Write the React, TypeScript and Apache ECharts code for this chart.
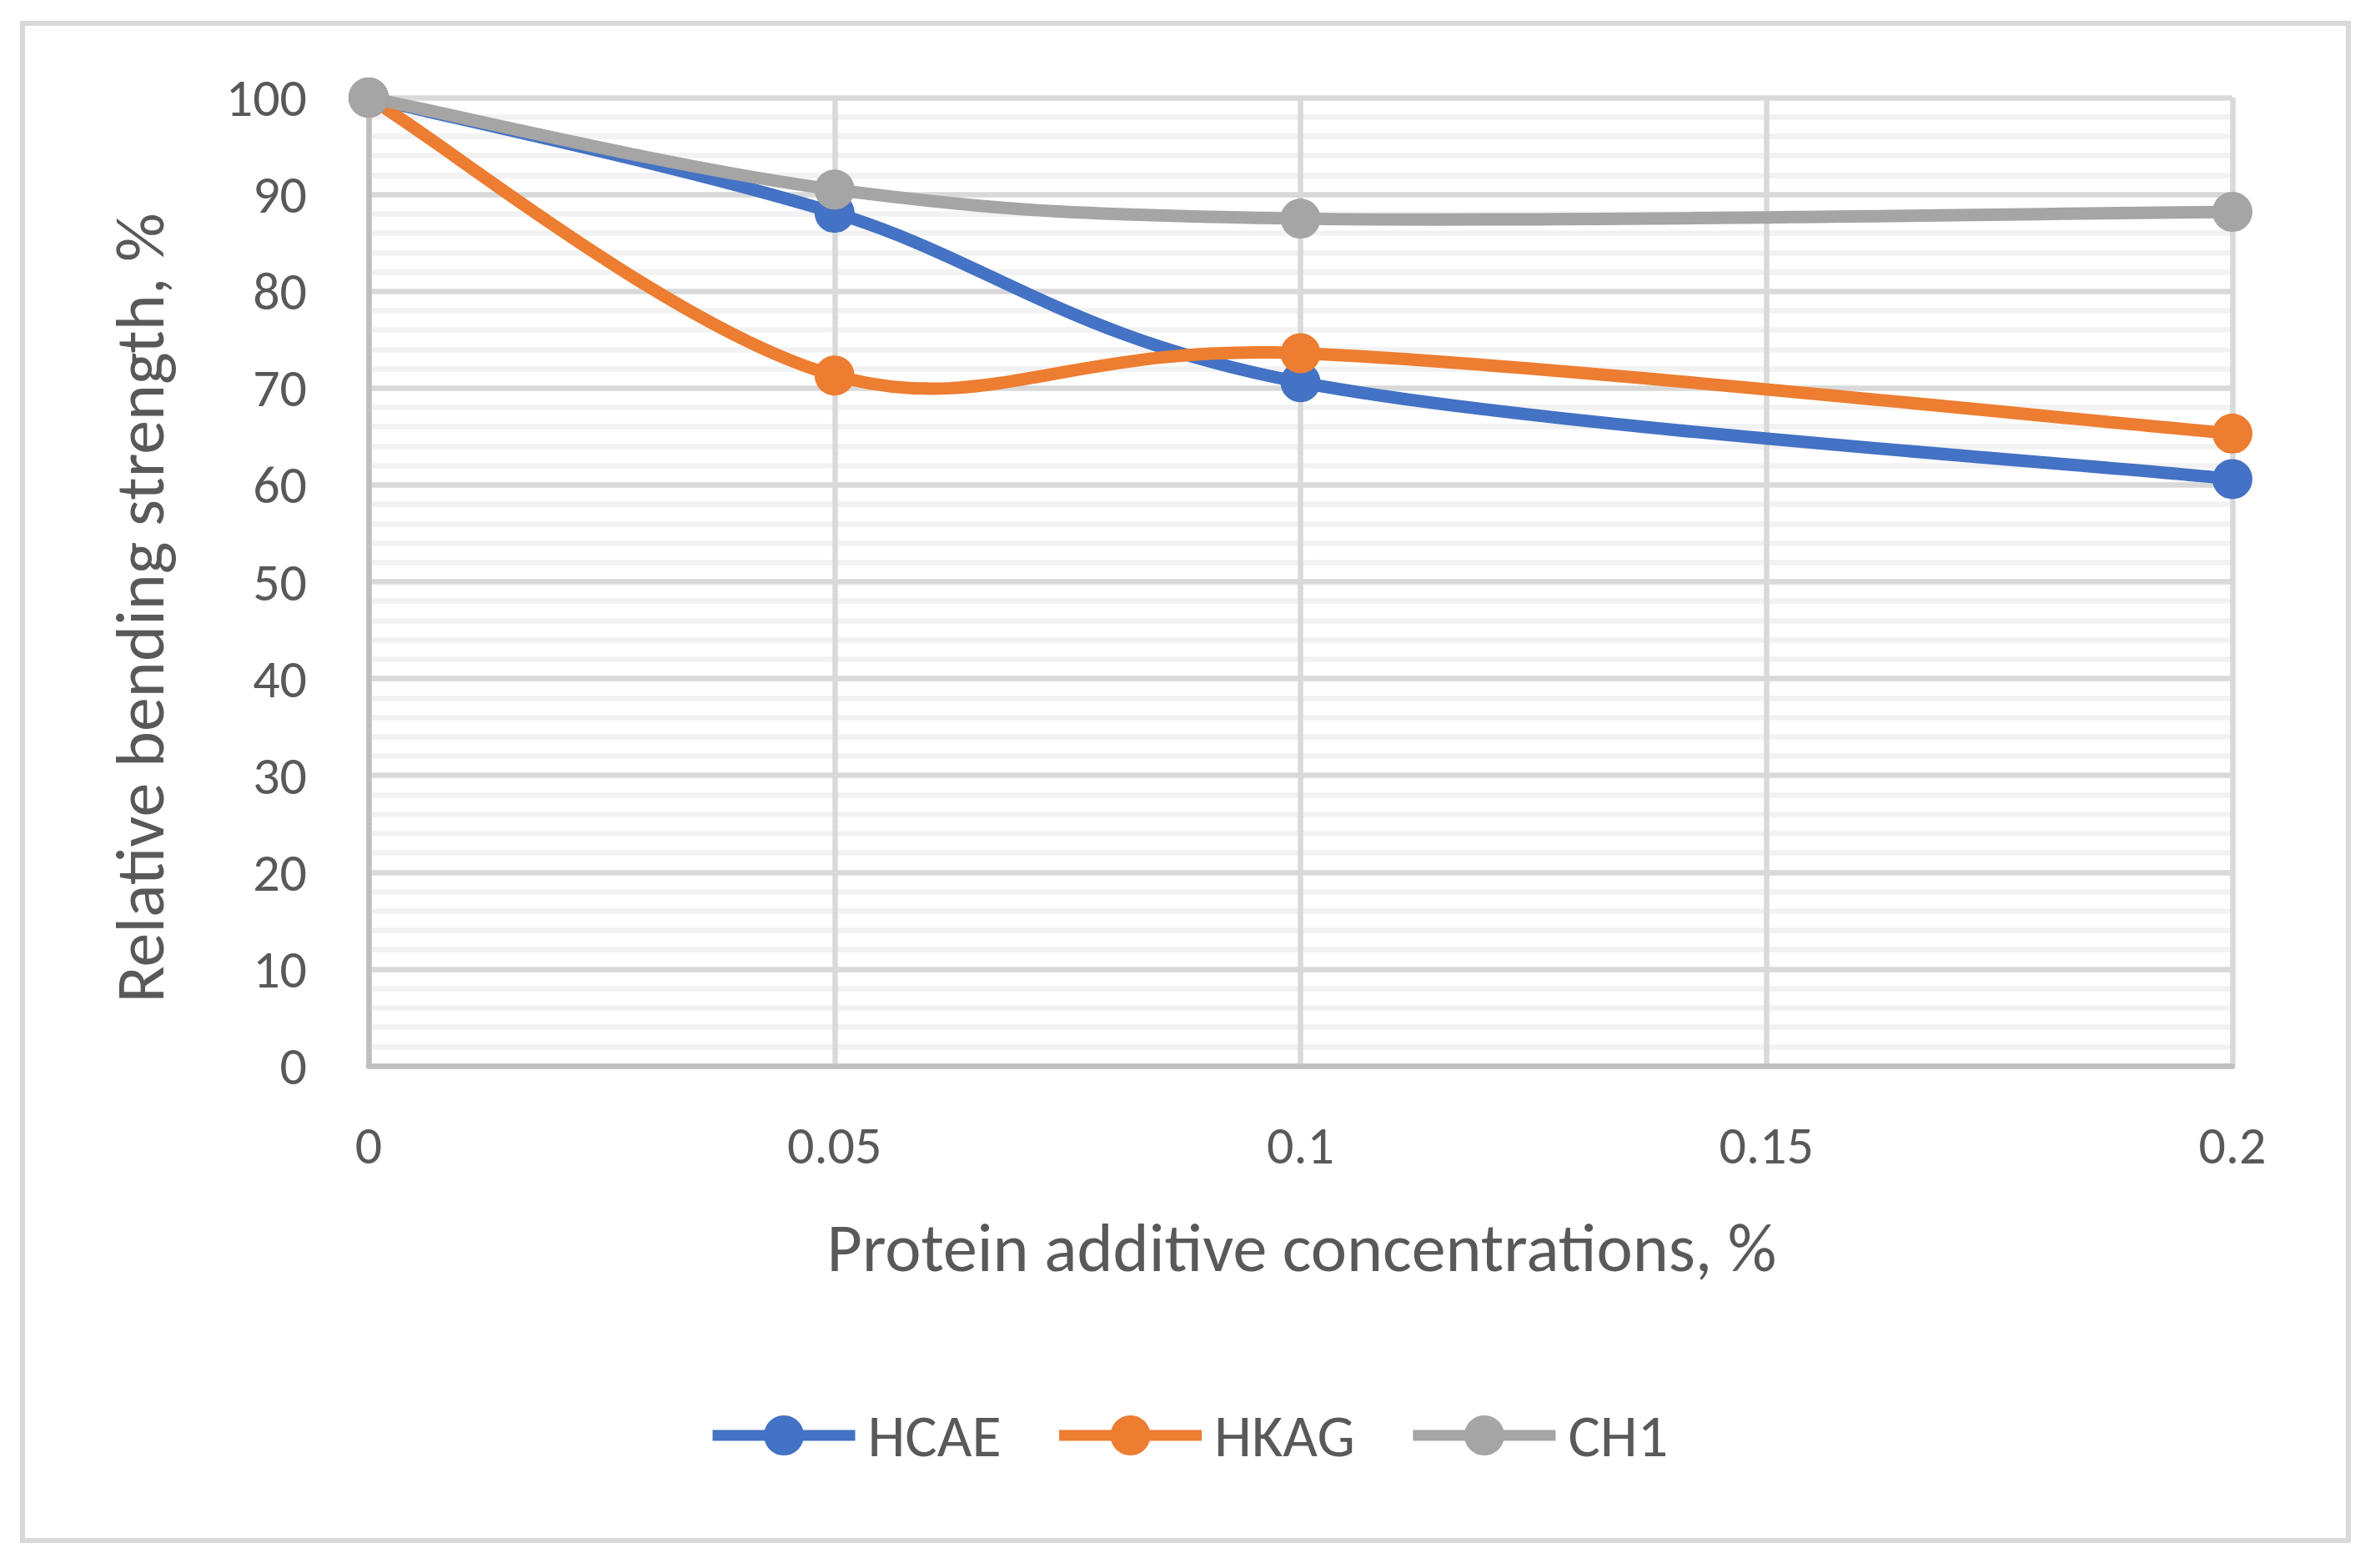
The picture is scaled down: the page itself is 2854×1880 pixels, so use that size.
import React, { useEffect, useRef } from "react";
import * as echarts from "echarts";

const xValues = [0, 0.05, 0.1, 0.2];
const hcae = [100, 88.1, 70.6, 60.6];
const hkag = [100, 71.3, 73.6, 65.3];
const ch1 = [100, 90.5, 87.5, 88.2];
const seriesNames = ["HCAE", "HKAG", "CH1"];
const seriesColors = ["#4472C4", "#ED7D31", "#A5A5A5"];
const xTitle = "Protein additive concentrations, %";
const yTitle = "Relative bending strength, %";

const FONT = "Carlito, Calibri, Lato, sans-serif";
const TEXT = "#595959";

// Excel-like (Catmull-Rom) smoothed path through points given in pixels
function smoothPath(pts: number[][]): string {
  let d = `M${pts[0][0]},${pts[0][1]}`;
  for (let i = 0; i < pts.length - 1; i++) {
    const p0 = pts[i - 1] || pts[i];
    const p1 = pts[i];
    const p2 = pts[i + 1];
    const p3 = pts[i + 2] || pts[i + 1];
    const c1x = p1[0] + (p2[0] - p0[0]) / 6;
    const c1y = p1[1] + (p2[1] - p0[1]) / 6;
    const c2x = p2[0] - (p3[0] - p1[0]) / 6;
    const c2y = p2[1] - (p3[1] - p1[1]) / 6;
    d += ` C${c1x},${c1y} ${c2x},${c2y} ${p2[0]},${p2[1]}`;
  }
  return d;
}

export default function App() {
  const ref = useRef<HTMLDivElement>(null);
  useEffect(() => {
    document.body.style.margin = "0";
    if (!ref.current) return;
    const chart = echarts.init(ref.current, undefined, { renderer: "svg" });
    const allValues = [hcae, hkag, ch1];
    const series: any[] = [];
    seriesNames.forEach((name, i) => {
      series.push({
        name: name + " curve",
        type: "custom",
        coordinateSystem: "cartesian2d",
        silent: true,
        data: [[xValues[0], allValues[i][0]]],
        renderItem: (params: any, api: any) => {
          const pts = xValues.map((x, j) => api.coord([x, allValues[i][j]]));
          return {
            type: "path",
            shape: { pathData: smoothPath(pts) },
            style: {
              fill: "none",
              stroke: seriesColors[i],
              lineWidth: 15,
              lineJoin: "round",
              lineCap: "round",
            },
          };
        },
      });
      series.push({
        name,
        type: "line",
        symbol: "circle",
        symbolSize: 48,
        showSymbol: true,
        color: seriesColors[i],
        lineStyle: { color: seriesColors[i], width: 15, opacity: 0 },
        itemStyle: { color: seriesColors[i] },
        data: xValues.map((x, j) => [x, allValues[i][j]]),
      });
    });
    chart.setOption({
      animation: false,
      backgroundColor: "#ffffff",
      textStyle: { fontFamily: FONT },
      grid: { left: 442, right: 177, top: 117, bottom: 602, containLabel: false },
      xAxis: {
        type: "value",
        min: 0,
        max: 0.2,
        interval: 0.05,
        axisLine: { show: true, lineStyle: { color: "#BFBFBF", width: 6.5 } },
        axisTick: { show: false },
        axisLabel: { color: TEXT, fontSize: 64, fontFamily: FONT, margin: 63 },
        splitLine: { show: true, lineStyle: { color: "#D9D9D9", width: 6.5 } },
      },
      yAxis: {
        type: "value",
        min: 0,
        max: 100,
        interval: 10,
        axisLine: { show: true, lineStyle: { color: "#BFBFBF", width: 6.5 } },
        axisTick: { show: false },
        axisLabel: { color: TEXT, fontSize: 64, fontFamily: FONT, margin: 74 },
        splitLine: { show: true, lineStyle: { color: "#D9D9D9", width: 6.5 } },
        minorTick: { show: false, splitNumber: 5 },
        minorSplitLine: { show: true, lineStyle: { color: "#F2F2F2", width: 6.5 } },
      },
      legend: {
        left: 843,
        top: 1680,
        orient: "horizontal",
        itemWidth: 171,
        itemHeight: 60,
        itemGap: 63,
        data: seriesNames,
        lineStyle: { width: 13, opacity: 1 },
        textStyle: { color: TEXT, fontSize: 72, fontFamily: FONT, padding: [0, 0, 0, 10] },
      },
      graphic: [
        {
          type: "rect",
          shape: { x: 27, y: 28, width: 2789, height: 1819 },
          style: { fill: "none", stroke: "#D9D9D9", lineWidth: 6 },
          silent: true,
        },
        {
          type: "text",
          x: 1561,
          y: 1496,
          style: {
            text: xTitle,
            fill: TEXT,
            fontSize: 82,
            fontFamily: FONT,
            align: "center",
            verticalAlign: "middle",
          },
        },
        {
          type: "text",
          x: 168,
          y: 729,
          rotation: Math.PI / 2,
          style: {
            text: yTitle,
            fill: TEXT,
            fontSize: 82,
            fontFamily: FONT,
            align: "center",
            verticalAlign: "middle",
          },
        },
      ],
      series,
    });
    return () => chart.dispose();
  }, []);
  return <div ref={ref} style={{ width: 2854, height: 1880 }} />;
}
